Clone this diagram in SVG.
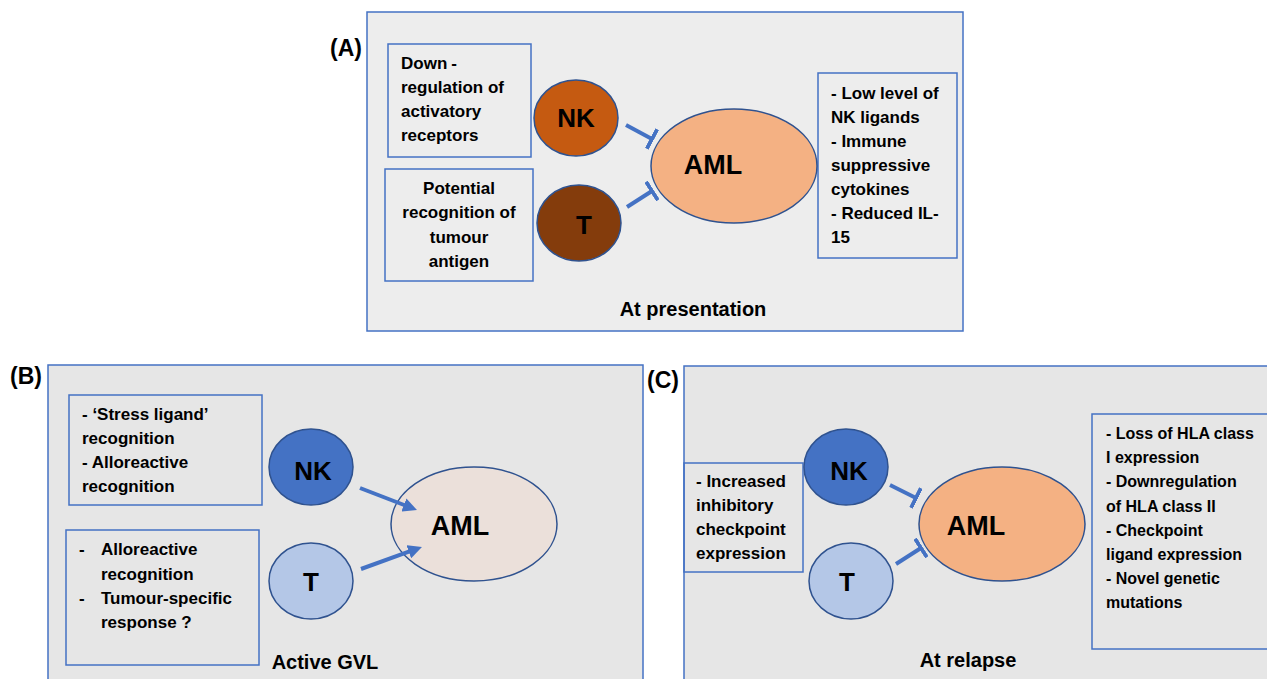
<svg xmlns="http://www.w3.org/2000/svg" width="1267" height="679" viewBox="0 0 1267 679">
<defs>
<style>
.panelA{fill:#ededed;stroke:#4472c4;stroke-width:1.5}
.panel{fill:#e6e6e6;stroke:#4472c4;stroke-width:1.5}
.box{fill:none;stroke:#4472c4;stroke-width:1.5}
.cell{stroke:#2f528f;stroke-width:1.5}
.t{font-family:"Liberation Sans",Arial,sans-serif;font-weight:bold;fill:#000}
.body{font-size:17px}
.small{font-size:16px}
.cap{font-size:20px}
.lab{font-size:23px}
.node{font-size:26px;text-anchor:middle}
.aml{font-size:27px;text-anchor:middle}
.inh{stroke:#4472c4;stroke-width:4;fill:none;marker-end:url(#tee)}
.act{stroke:#4472c4;stroke-width:4;fill:none;marker-end:url(#arr)}
</style>
<marker id="tee" markerUnits="userSpaceOnUse" viewBox="0 0 4 22" refX="2" refY="11" markerWidth="4" markerHeight="22" orient="auto">
<rect x="0" y="0" width="4" height="22" fill="#4472c4"/>
</marker>
<marker id="arr" markerUnits="userSpaceOnUse" viewBox="0 0 14 14" refX="3" refY="7" markerWidth="14" markerHeight="14" orient="auto">
<path d="M0,0 L14,7 L0,14 z" fill="#4472c4"/>
</marker>
</defs>
<rect x="0" y="0" width="1267" height="679" fill="#ffffff"/>

<g id="panelA">
<rect class="panelA" x="367" y="12" width="596" height="319"/>
<text class="t lab" x="330" y="56">(A)</text>
<text class="t cap" x="693" y="316" text-anchor="middle">At presentation</text>
</g>
<g id="panelB">
<rect class="panel" x="48" y="365" width="595" height="340"/>
<text class="t lab" x="10" y="384">(B)</text>
<text class="t cap" x="325" y="669" text-anchor="middle">Active GVL</text>
</g>
<g id="panelC">
<rect class="panel" x="684" y="366" width="620" height="340"/>
<text class="t lab" x="647" y="388">(C)</text>
<text class="t cap" x="968" y="667" text-anchor="middle">At relapse</text>
</g>

<g id="A-box-nk">
<rect class="box" x="388" y="44" width="143" height="113"/>
<text class="t body" x="401" y="69">Down<tspan dx="4">-</tspan></text>
<text class="t body" x="401" y="93">regulation of</text>
<text class="t body" x="401" y="117">activatory</text>
<text class="t body" x="401" y="141">receptors</text>
</g>
<g id="A-box-t">
<rect class="box" x="385" y="169" width="148" height="112"/>
<text class="t body" x="459" y="194" text-anchor="middle">Potential</text>
<text class="t body" x="459" y="218" text-anchor="middle">recognition of</text>
<text class="t body" x="459" y="243" text-anchor="middle">tumour</text>
<text class="t body" x="459" y="267" text-anchor="middle">antigen</text>
</g>
<g id="A-box-aml">
<rect class="box" x="818" y="73" width="139" height="185"/>
<text class="t body" x="831" y="99">- Low level of</text>
<text class="t body" x="831" y="123">NK ligands</text>
<text class="t body" x="831" y="147">- Immune</text>
<text class="t body" x="831" y="171">suppressive</text>
<text class="t body" x="831" y="195">cytokines</text>
<text class="t body" x="831" y="219">- Reduced IL-</text>
<text class="t body" x="831" y="243">15</text>
</g>
<g id="A-NK">
<ellipse class="cell" cx="576" cy="118" rx="42" ry="38" fill="#c55a11"/>
<text class="t node" x="576" y="127">NK</text>
</g>
<g id="A-T">
<ellipse class="cell" cx="579" cy="223" rx="42" ry="38" fill="#843c0c"/>
<text class="t node" x="584" y="234">T</text>
</g>
<g id="A-AML">
<ellipse class="cell" cx="734" cy="166" rx="83" ry="57" fill="#f4b183"/>
<text class="t aml" x="713" y="174">AML</text>
</g>

<g id="B-box-nk">
<rect class="box" x="69" y="395" width="193" height="110"/>
<text class="t body" x="82" y="420">- ‘Stress ligand’</text>
<text class="t body" x="82" y="444">recognition</text>
<text class="t body" x="82" y="468">- Alloreactive</text>
<text class="t body" x="82" y="492">recognition</text>
</g>
<g id="B-box-t">
<rect class="box" x="66" y="530" width="193" height="135"/>
<text class="t body" x="79" y="555">-</text>
<text class="t body" x="101" y="555">Alloreactive</text>
<text class="t body" x="101" y="580">recognition</text>
<text class="t body" x="79" y="604">-</text>
<text class="t body" x="101" y="604">Tumour-specific</text>
<text class="t body" x="101" y="628">response ?</text>
</g>
<g id="B-NK">
<ellipse class="cell" cx="311" cy="467" rx="42" ry="38" fill="#4472c4"/>
<text class="t node" x="313" y="480">NK</text>
</g>
<g id="B-T">
<ellipse class="cell" cx="311" cy="581" rx="42" ry="38" fill="#b4c7e7"/>
<text class="t node" x="311" y="591">T</text>
</g>
<g id="B-AML">
<ellipse class="cell" cx="474" cy="524" rx="83" ry="57" fill="#ebe0da"/>
<text class="t aml" x="460" y="535">AML</text>
</g>

<g id="C-box-left">
<rect class="box" x="684" y="463" width="119" height="109"/>
<text class="t body" x="696" y="487">- Increased</text>
<text class="t body" x="696" y="511">inhibitory</text>
<text class="t body" x="696" y="535">checkpoint</text>
<text class="t body" x="696" y="559">expression</text>
</g>
<g id="C-box-right">
<rect class="box" x="1092" y="414" width="200" height="235"/>
<text class="t small" x="1106" y="439">- Loss of HLA class</text>
<text class="t small" x="1106" y="463">I expression</text>
<text class="t small" x="1106" y="487">- Downregulation</text>
<text class="t small" x="1106" y="512">of HLA class II</text>
<text class="t small" x="1106" y="536">- Checkpoint</text>
<text class="t small" x="1106" y="560">ligand expression</text>
<text class="t small" x="1106" y="584">- Novel genetic</text>
<text class="t small" x="1106" y="608">mutations</text>
</g>
<g id="C-NK">
<ellipse class="cell" cx="846" cy="467" rx="42" ry="38" fill="#4472c4"/>
<text class="t node" x="849" y="480">NK</text>
</g>
<g id="C-T">
<ellipse class="cell" cx="851" cy="581" rx="42" ry="38" fill="#b4c7e7"/>
<text class="t node" x="847" y="591">T</text>
</g>
<g id="C-AML">
<ellipse class="cell" cx="1002" cy="524" rx="83" ry="57" fill="#f4b183"/>
<text class="t aml" x="976" y="535">AML</text>
</g>

<g id="connectors">
<line class="inh" x1="626" y1="125" x2="652" y2="139"/>
<line class="inh" x1="627" y1="207" x2="652" y2="191"/>
<line class="act" x1="360" y1="488" x2="406.7" y2="506"/>
<line class="act" x1="361" y1="569" x2="411.6" y2="550.7"/>
<line class="inh" x1="890" y1="485" x2="916" y2="498"/>
<line class="inh" x1="896" y1="564" x2="921" y2="548"/>
</g>
</svg>
